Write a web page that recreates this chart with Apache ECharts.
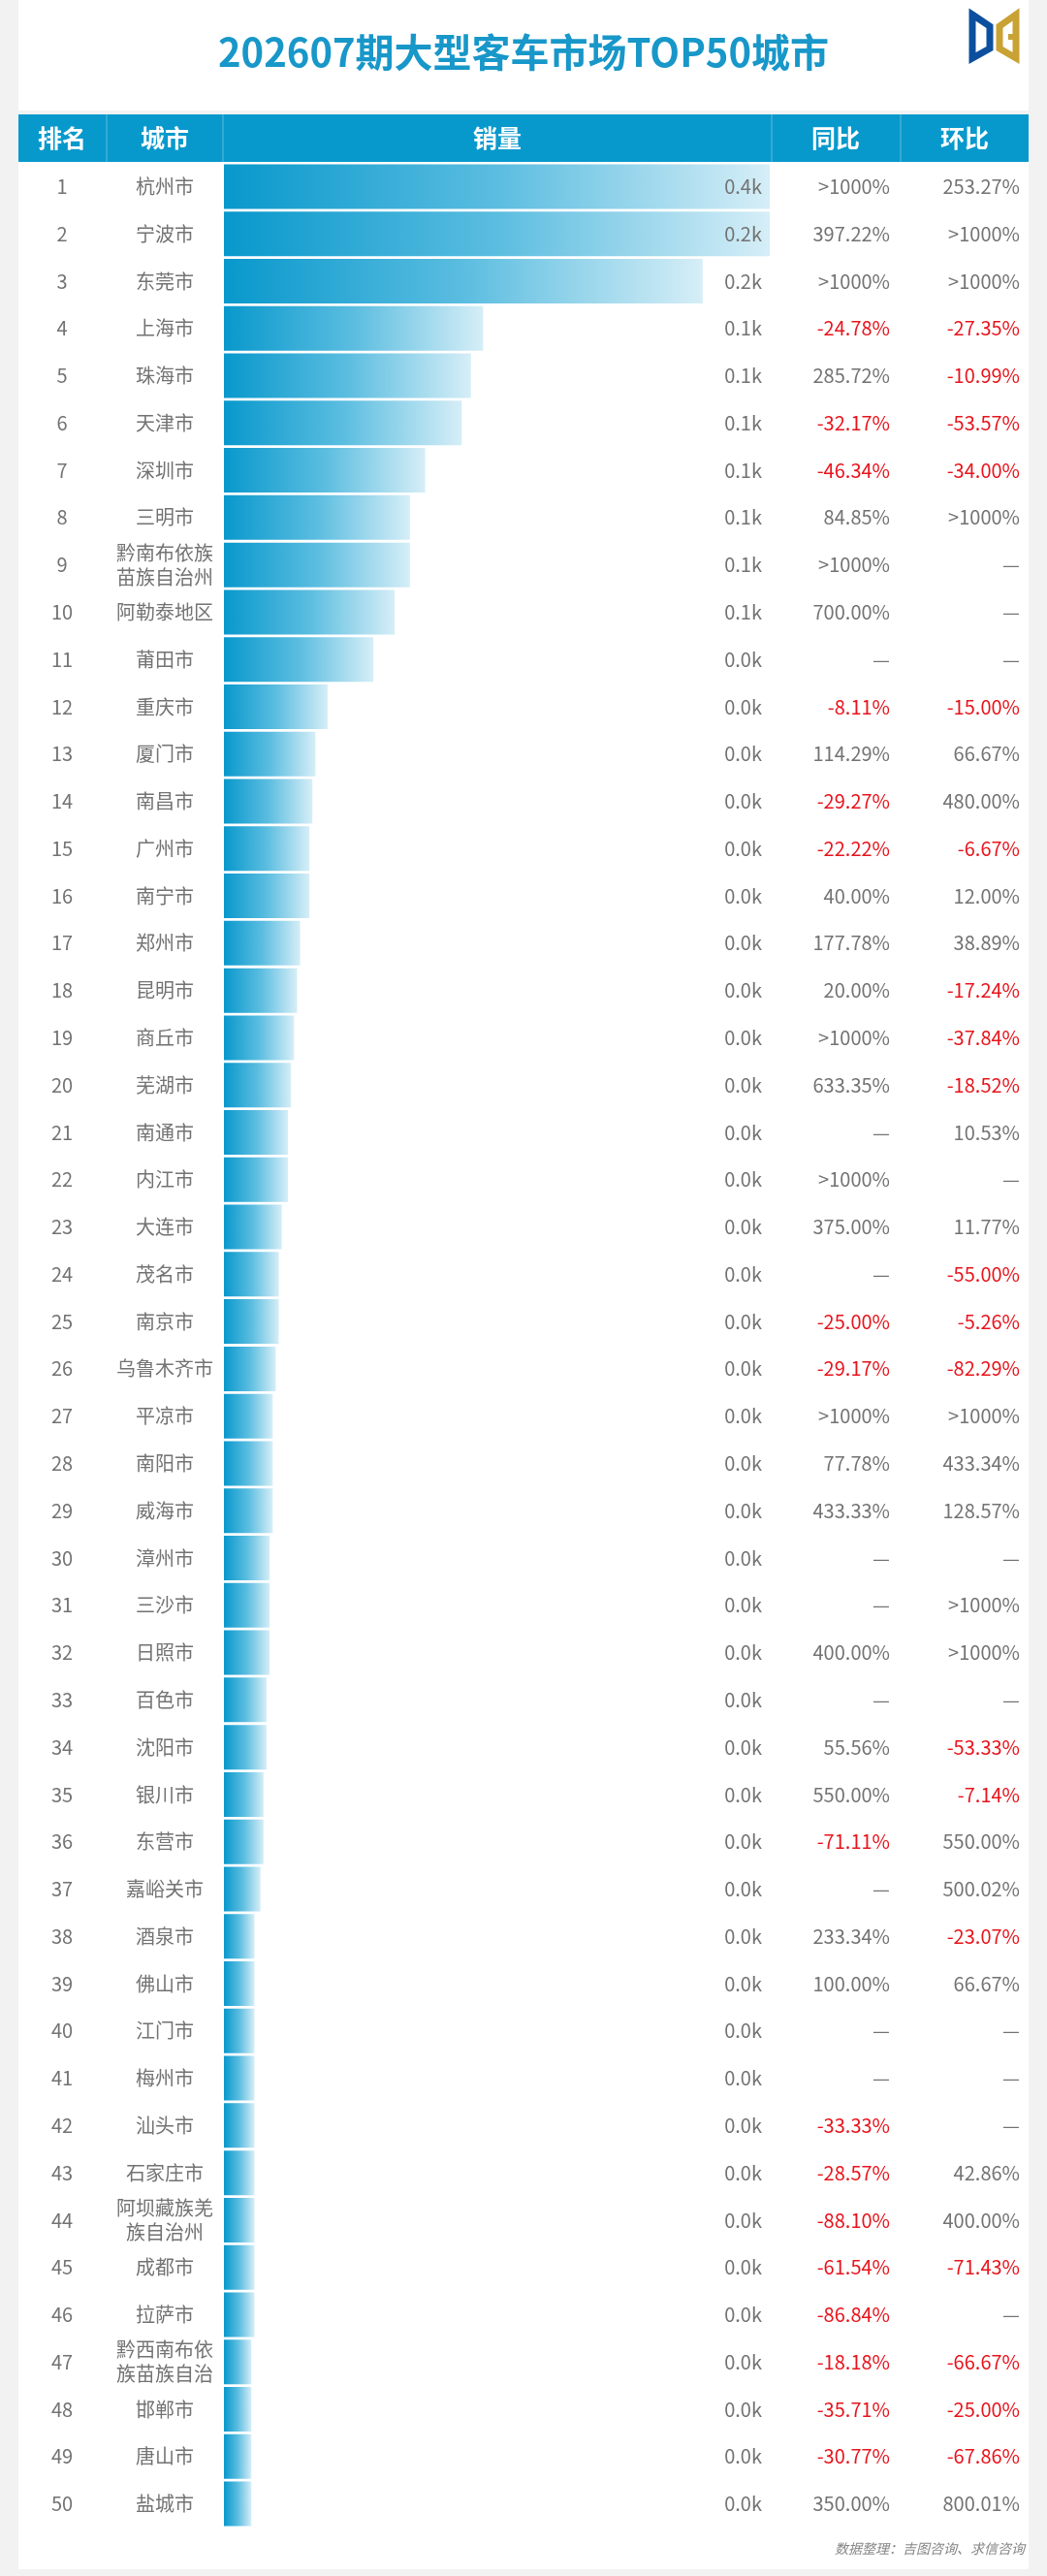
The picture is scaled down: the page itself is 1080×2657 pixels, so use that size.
<!DOCTYPE html>
<html lang="zh">
<head>
    <meta charset="UTF-8">
    <title>202607期大型客车市场TOP50城市</title>
    <script src="https://cdn.jsdelivr.net/npm/echarts@6/dist/echarts.min.js"></script>
    <style>
        html, body { margin: 0; padding: 0; background: #f2f2f2; }
        #main { width: 1080px; height: 2657px; }
    </style>
</head>
<body>
<div id="main"></div>
<script type="text/javascript">
    // 数据
    var ranks = [];
    for (var i = 1; i <= 50; i++) { ranks.push(String(i)); }

    var cities = ['杭州市', '宁波市', '东莞市', '上海市', '珠海市', '天津市', '深圳市', '三明市',
        '黔南布依族\n苗族自治州', '阿勒泰地区', '莆田市', '重庆市', '厦门市', '南昌市', '广州市', '南宁市',
        '郑州市', '昆明市', '商丘市', '芜湖市', '南通市', '内江市', '大连市', '茂名市', '南京市',
        '乌鲁木齐市', '平凉市', '南阳市', '威海市', '漳州市', '三沙市', '日照市', '百色市', '沈阳市',
        '银川市', '东营市', '嘉峪关市', '酒泉市', '佛山市', '江门市', '梅州市', '汕头市', '石家庄市',
        '阿坝藏族羌\n族自治州', '成都市', '拉萨市', '黔西南布依\n族苗族自治', '邯郸市', '唐山市', '盐城市'];

    // 销量（辆）
    var sales = [380, 205, 157, 85, 81, 78, 66, 61, 61, 56,
        49, 34, 30, 29, 28, 28, 25, 24, 23, 22,
        21, 21, 19, 18, 18, 17, 16, 16, 16, 15,
        15, 15, 14, 14, 13, 13, 12, 10, 10, 10,
        10, 10, 10, 10, 10, 10, 9, 9, 9, 9];

    var yoy = ['>1000%', '397.22%', '>1000%', '-24.78%', '285.72%', '-32.17%', '-46.34%', '84.85%', '>1000%', '700.00%',
        '—', '-8.11%', '114.29%', '-29.27%', '-22.22%', '40.00%', '177.78%', '20.00%', '>1000%', '633.35%',
        '—', '>1000%', '375.00%', '—', '-25.00%', '-29.17%', '>1000%', '77.78%', '433.33%', '—',
        '—', '400.00%', '—', '55.56%', '550.00%', '-71.11%', '—', '233.34%', '100.00%', '—',
        '—', '-33.33%', '-28.57%', '-88.10%', '-61.54%', '-86.84%', '-18.18%', '-35.71%', '-30.77%', '350.00%'];

    var mom = ['253.27%', '>1000%', '>1000%', '-27.35%', '-10.99%', '-53.57%', '-34.00%', '>1000%', '—', '—',
        '—', '-15.00%', '66.67%', '480.00%', '-6.67%', '12.00%', '38.89%', '-17.24%', '-37.84%', '-18.52%',
        '10.53%', '—', '11.77%', '-55.00%', '-5.26%', '-82.29%', '>1000%', '433.34%', '128.57%', '—',
        '>1000%', '>1000%', '—', '-53.33%', '-7.14%', '550.00%', '500.02%', '-23.07%', '66.67%', '—',
        '—', '—', '42.86%', '400.00%', '-71.43%', '—', '-66.67%', '-25.00%', '-67.86%', '800.01%'];

    var headers = ['排名', '城市', '销量', '同比', '环比'];

    var salesLabels = sales.map(function (v) { return (v / 1000).toFixed(1) + 'k'; });

    var FONT = '"Noto Sans CJK SC", "Noto Sans", sans-serif';
    var GRAY = '#737373';
    var RED = '#e8141c';

    function pctColor(value) {
        return String(value).charAt(0) === '-' ? RED : GRAY;
    }

    function textAxis(data, position, margin, align, colorFn) {
        return {
            type: 'category',
            data: data,
            inverse: true,
            position: position,
            z: 5,
            axisLine: { show: false },
            axisTick: { show: false },
            splitLine: { show: false },
            axisLabel: {
                interval: 0,
                hideOverlap: false,
                margin: margin,
                align: align,
                fontFamily: FONT,
                fontSize: 20,
                lineHeight: 25,
                color: colorFn || GRAY
            }
        };
    }

    var myChart = echarts.init(document.getElementById('main'), null, { renderer: 'canvas' });

    var gridLeft = 231, gridRight = 794, gridTop = 168, gridBottom = 2607;
    var headerX = [64, 170, 513, 862, 995];
    var sepX = [110, 230, 796, 929];

    var graphics = [
        { type: 'rect', z: -10, shape: { x: 19, y: 0, width: 1042, height: 114 }, style: { fill: '#ffffff' } },
        { type: 'rect', z: -10, shape: { x: 19, y: 118, width: 1042, height: 2532 }, style: { fill: '#ffffff' } },
        { type: 'rect', z: -5, shape: { x: 19, y: 118, width: 1042, height: 49 }, style: { fill: '#0899cc' } },
        {
            type: 'text', left: 'center', top: 34,
            style: {
                text: '202607期大型客车市场TOP50城市',
                fill: '#1897c9', font: 'bold 40px ' + FONT
            }
        },
        {
            type: 'polygon', z: 5,
            shape: { points: [[1003, 15], [1021, 27], [1021, 50], [1003, 60]] },
            style: { fill: 'none', stroke: '#0d4f9f', lineWidth: 7, lineJoin: 'miter' }
        },
        {
            type: 'polygon', z: 5,
            shape: { points: [[1048, 15], [1031, 27], [1031, 50], [1048, 60]] },
            style: { fill: 'none', stroke: '#c9a234', lineWidth: 7, lineJoin: 'miter' }
        },
        {
            type: 'line', z: 5,
            shape: { x1: 1048, y1: 38, x2: 1040, y2: 38 },
            style: { stroke: '#c9a234', lineWidth: 6 }
        },
        {
            type: 'text', z: 5, right: 23, top: 2622,
            style: {
                text: '数据整理：吉图咨询、求信咨询',
                fill: '#888888', font: 'italic 14px ' + FONT
            }
        }
    ];

    sepX.forEach(function (x) {
        graphics.push({
            type: 'line', z: -4,
            shape: { x1: x, y1: 118, x2: x, y2: 167 },
            style: { stroke: 'rgba(255,255,255,0.35)', lineWidth: 1 }
        });
    });

    headers.forEach(function (h, i) {
        graphics.push({
            type: 'text', z: 5,
            x: headerX[i], y: 142,
            style: {
                text: h, fill: '#ffffff', font: 'bold 25px ' + FONT,
                textAlign: 'center', textVerticalAlign: 'middle'
            }
        });
    });

    var salesAxis = textAxis(salesLabels, 'right', 8, 'right');
    salesAxis.axisLabel.inside = true;
    salesAxis.z = 10;

    var option = {
        backgroundColor: '#f2f2f2',
        animation: false,
        graphic: graphics,
        grid: {
            left: gridLeft,
            right: 1080 - gridRight,
            top: gridTop,
            height: gridBottom - gridTop,
            containLabel: false
        },
        xAxis: {
            type: 'value',
            min: 0,
            max: 179,
            show: false
        },
        yAxis: [
            textAxis(cities, 'left', gridLeft - headerX[1], 'center'),
            textAxis(ranks, 'left', gridLeft - headerX[0], 'center'),
            salesAxis,
            textAxis(yoy, 'right', 918 - gridRight, 'right', pctColor),
            textAxis(mom, 'right', 1052 - gridRight, 'right', pctColor)
        ],
        series: [{
            name: '销量',
            type: 'bar',
            yAxisIndex: 0,
            z: 2,
            data: sales,
            barWidth: 46,
            clip: true,
            itemStyle: {
                color: new echarts.graphic.LinearGradient(0, 0, 1, 0, [
                    { offset: 0, color: '#0898cc' },
                    { offset: 0.5, color: '#5bbde0' },
                    { offset: 1, color: '#d6eef7' }
                ])
            }
        }]
    };

    myChart.setOption(option);
</script>
</body>
</html>
